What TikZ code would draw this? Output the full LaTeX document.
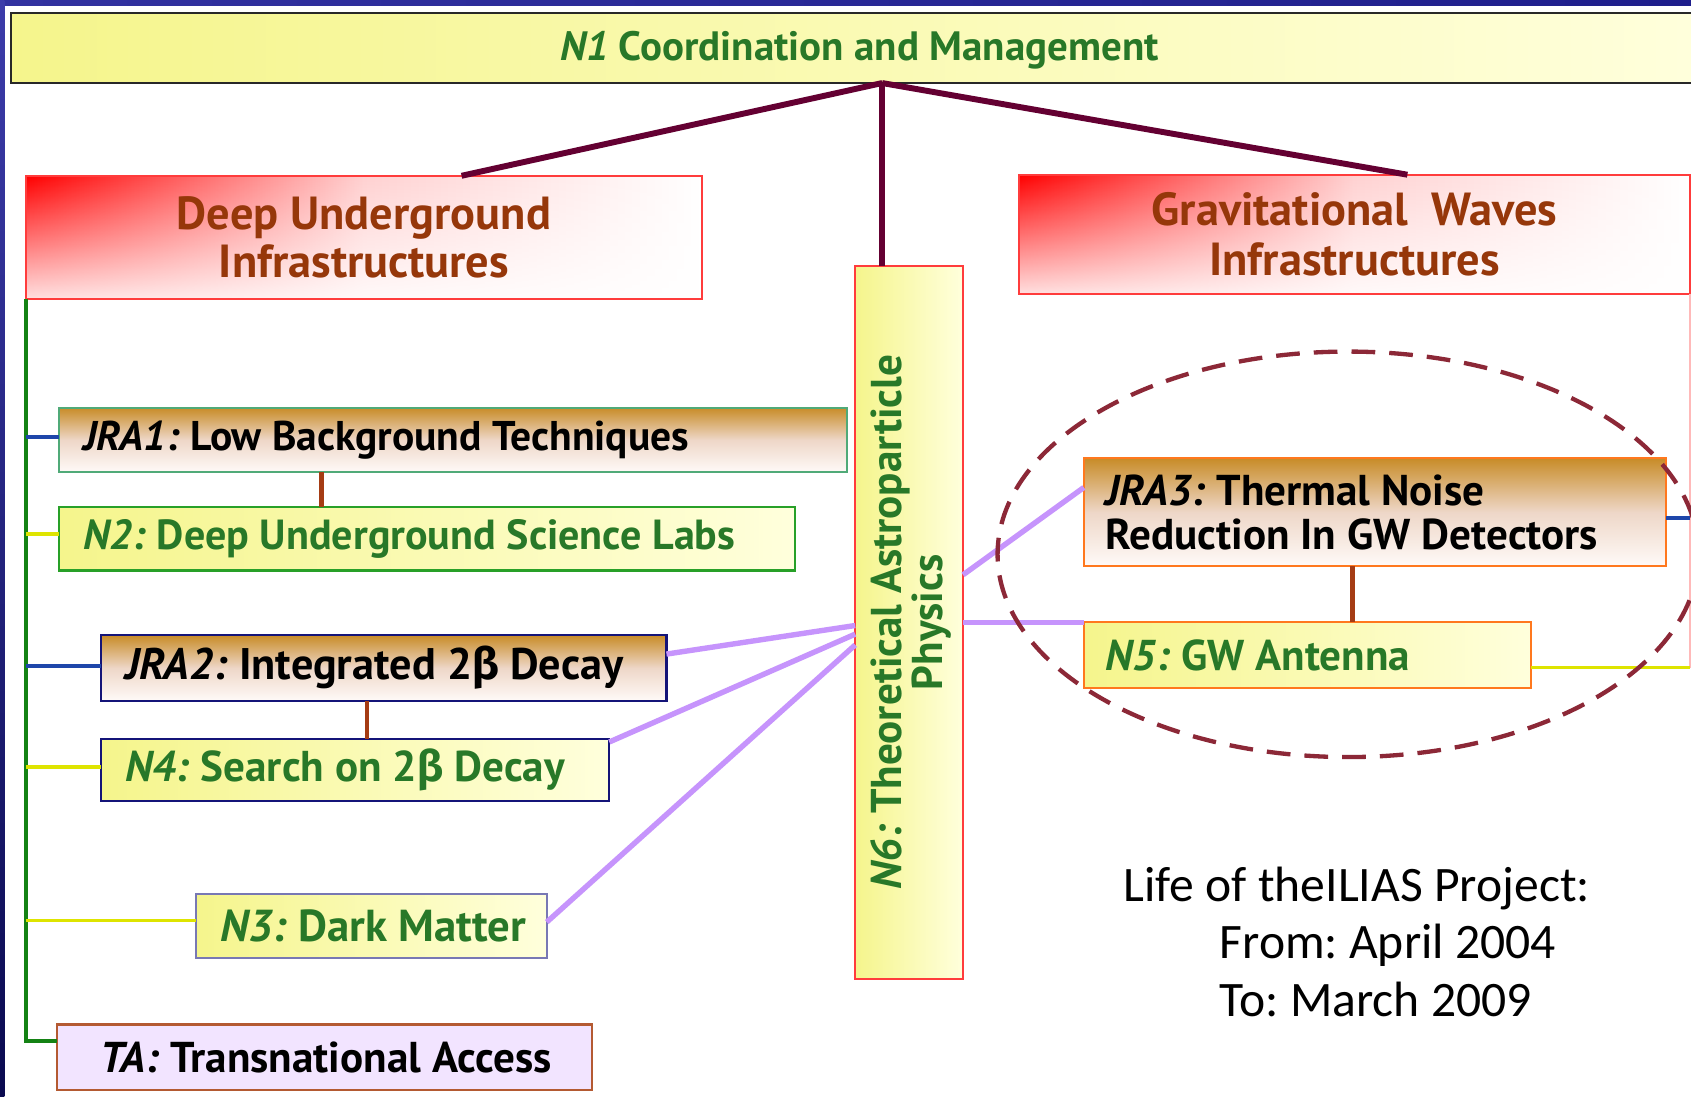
\documentclass[tikz,border=0pt]{standalone}
\usepackage{fontspec}
\setmainfont{PT Sans}
\newfontfamily\grk{Fira Sans}
\newfontfamily\calib{Carlito}
\frenchspacing
\usetikzlibrary{calc,shapes.geometric,fadings}
\tikzfading[name=fadedown,top color=transparent!0,bottom color=transparent!88]
\definecolor{frA}{RGB}{50,50,160}
\definecolor{frB}{RGB}{125,130,225}
\definecolor{frC}{RGB}{30,30,140}
\definecolor{frD}{RGB}{60,60,170}
\definecolor{frE}{RGB}{10,10,80}
\definecolor{txtgreen}{RGB}{40,120,40}
\definecolor{txtbrown}{RGB}{150,55,10}
\definecolor{maroon}{RGB}{100,0,50}
\definecolor{lilac}{RGB}{198,148,252}
\definecolor{linkbrown}{RGB}{165,60,20}
\definecolor{trunkgreen}{RGB}{20,130,20}
\definecolor{linkblue}{RGB}{30,70,170}
\definecolor{linkyellow}{RGB}{222,228,0}
\definecolor{ringred}{RGB}{140,40,55}
\definecolor{ylA}{RGB}{245,245,140}
\definecolor{ylB}{RGB}{255,255,220}
\definecolor{gdA}{RGB}{200,140,40}
\definecolor{gdB}{RGB}{238,215,200}
\definecolor{gdC}{RGB}{255,250,248}
\definecolor{redb}{RGB}{255,60,60}
\definecolor{n1b}{RGB}{40,40,40}
\definecolor{jraAb}{RGB}{80,170,120}
\definecolor{n2b}{RGB}{40,160,40}
\definecolor{navyb}{RGB}{20,20,120}
\definecolor{n3b}{RGB}{120,120,180}
\definecolor{tab}{RGB}{180,90,50}
\definecolor{tafill}{RGB}{242,228,255}
\definecolor{orangeb}{RGB}{255,120,30}
\definecolor{pinkline}{RGB}{255,185,185}
\begin{document}
\begin{tikzpicture}[x=1pt,y=-1pt,
  every node/.style={inner sep=0pt,outer sep=0pt},
  yelbox/.style={left color=ylA,right color=ylB,line width=2pt,anchor=north west},
  goldbox/.style={top color=gdA,bottom color=gdC,middle color=gdB,line width=2pt,anchor=north west},
  redbox/.style={draw=redb,line width=2pt,fill=white,anchor=north west,
    path picture={\shade[left color=red,right color=white,middle color=red!18!white,path fading=fadedown]
      (path picture bounding box.north west) rectangle (path picture bounding box.south east);}},
  lbl/.style={font=\bfseries\fontsize{#1}{41}\selectfont,anchor=west},
  maroonline/.style={draw=maroon,line width=5.5pt},
  lilacline/.style={draw=lilac,line width=5pt},
  brownline/.style={draw=linkbrown,line width=4pt},
  trunkline/.style={draw=trunkgreen,line width=3.5pt},
  blueline/.style={draw=linkblue,line width=3.5pt},
  yellowline/.style={draw=linkyellow,line width=3.5pt},
  lifetext/.style={font=\calib\fontsize{46}{54}\selectfont,anchor=base west},
]
\useasboundingbox (0,0) rectangle (1568,1017);
\clip (0,0) rectangle (1568,1017);
\fill[white] (0,0) rectangle (1568,1017);
\shade[left color=frA,middle color=frB,right color=frC] (0,0) rectangle (1568,5);
\shade[top color=frD,bottom color=frE] (0,0) rectangle (4,1017);

% boxes
\node[yelbox,draw=n1b,minimum width=1574pt,minimum height=65pt] (n1) at (10,12) {};
\node[font=\bfseries\fontsize{38}{40}\selectfont,text=txtgreen,yshift=-2pt] (n1t) at (n1) {\textit{N1} Coordination and Management};

\node[redbox,minimum width=627pt,minimum height=114pt] (du) at (24,163) {};
\node[font=\bfseries\fontsize{43}{45}\selectfont,text=txtbrown,align=center] (dut) at (du) {Deep Underground\\Infrastructures};

\node[redbox,minimum width=622pt,minimum height=111pt] (gw) at (945,162) {};
\node[font=\bfseries\fontsize{43}{46}\selectfont,text=txtbrown,align=center] (gwt) at (gw) {Gravitational\ \ Waves\\Infrastructures};

\node[yelbox,draw=redb,minimum width=100pt,minimum height=661pt] (n6) at (793,247) {};
\node[font=\bfseries\fontsize{40}{38}\selectfont,text=txtgreen,align=center,rotate=90] (n6t) at (845,577) {\textit{N6:} Theoretical Astroparticle\\Physics};

\node[goldbox,draw=jraAb,minimum width=730pt,minimum height=60pt] (jra1) at (55,378) {};
\node[lbl=38.5,text=black,xshift=22pt] (jra1t) at (jra1.west) {\textit{JRA1:} Low Background Techniques};

\node[yelbox,draw=n2b,minimum width=682pt,minimum height=59pt] (n2) at (55,470) {};
\node[lbl=39,text=txtgreen,xshift=22pt] (n2t) at (n2.west) {\textit{N2:} Deep Underground Science Labs};

\node[goldbox,draw=navyb,minimum width=524pt,minimum height=61pt] (jra2) at (94,589) {};
\node[lbl=41,text=black,xshift=22pt] (jra2t) at (jra2.west) {\textit{JRA2:} Integrated 2{\grk β} Decay};

\node[yelbox,draw=navyb,minimum width=471pt,minimum height=58pt] (n4) at (94,685) {};
\node[lbl=40,text=txtgreen,xshift=22pt] (n4t) at (n4.west) {\textit{N4:} Search on 2{\grk β} Decay};

\node[yelbox,draw=n3b,minimum width=325pt,minimum height=59pt] (n3) at (182,829) {};
\node[lbl=41.5,text=txtgreen,xshift=22pt] (n3t) at (n3.west) {\textit{N3:} Dark Matter};

\node[draw=tab,fill=tafill,line width=2pt,anchor=north west,minimum width=496pt,minimum height=61pt] (ta) at (53,950) {};
\node[lbl=40,text=black,xshift=40pt] (tat) at (ta.west) {\textit{TA:} Transnational Access};

\node[goldbox,draw=orangeb,minimum width=540pt,minimum height=100pt] (jra3) at (1005,425) {};
\node[lbl=40,text=black,xshift=20pt,align=left] (jra3t) at (jra3.west) {\textit{JRA3:} Thermal Noise\\Reduction In GW Detectors};

\node[yelbox,draw=orangeb,minimum width=415pt,minimum height=61pt] (n5) at (1005,577) {};
\node[lbl=40,text=txtgreen,xshift=20pt] (n5t) at (n5.west) {\textit{N5:} GW Antenna};

% connectors from N1
\draw[maroonline] ([xshift=21pt]n1.south) -- ([xshift=90.5pt]du.north);
\draw[maroonline] ([xshift=21pt]n1.south) -- ([xshift=-25pt]n6.north);
\draw[maroonline] ([xshift=21pt]n1.south) -- ([xshift=49pt]gw.north);

% left trunk
\coordinate (taj) at ([yshift=15pt]ta.west);
\coordinate (jra1j) at ([yshift=3pt]jra1.west);
\coordinate (n2j) at ([yshift=4pt]n2.west);
\coordinate (jra2j) at ([yshift=2pt]jra2.west);
\coordinate (n4j) at ([yshift=3pt]n4.west);
\coordinate (n3j) at ([yshift=5pt]n3.west);
\draw[trunkline] (du.south west) -- (du.south west |- taj) -- (taj);
\draw[blueline] (du.south west |- jra1j) -- (jra1j);
\draw[yellowline] (du.south west |- n2j) -- (n2j);
\draw[blueline] (du.south west |- jra2j) -- (jra2j);
\draw[yellowline] (du.south west |- n4j) -- (n4j);
\draw[yellowline] (du.south west |- n3j) -- (n3j);

% right trunk
\coordinate (n5j) at ([yshift=-11.5pt]n5.east);
\coordinate (jra3j) at ([yshift=-5pt]jra3.east);
\draw[draw=pinkline,line width=2pt] (gw.south east) -- (gw.south east |- n5j);
\draw[blueline] (jra3j) -- (gw.south east |- jra3j);
\draw[yellowline] (n5j) -- (gw.south east |- n5j);

% brown links
\draw[brownline] ([xshift=243pt]jra1.south west) -- ([xshift=243pt]n2.north west);
\draw[brownline] ([xshift=246pt]jra2.south west) -- ([xshift=246pt]n4.north west);
\draw[brownline] ([xshift=249pt]jra3.south west) -- ([xshift=249pt]n5.north west);

% lilac links to N6
\draw[lilacline] ([yshift=13pt]jra2.east) -- ([yshift=-2.5pt]n6.west);
\draw[lilacline] ([yshift=-3pt]n4.north east) -- ([yshift=-10.5pt]n6.west);
\draw[lilacline] ([yshift=3.5pt]n3.east) -- ([yshift=-20.5pt]n6.west);
\draw[lilacline] ([yshift=44.5pt]n6.east) -- ([yshift=23pt]jra3.west);
\draw[lilacline] ([yshift=0.5pt]n6.east) -- (n5.north west);

% dashed ring
\node[draw=ringred,line width=4pt,dash pattern=on 22pt off 13pt,ellipse,minimum width=650pt,minimum height=376pt] (ring) at (1250,514) {};

% project life text
\node[lifetext] (life1) at (1042,836) {Life of theILIAS Project:};
\node[lifetext] (life2) at (1131,889) {From: April 2004};
\node[lifetext] (life3) at (1131,943) {To: March 2009};
\end{tikzpicture}
\end{document}
